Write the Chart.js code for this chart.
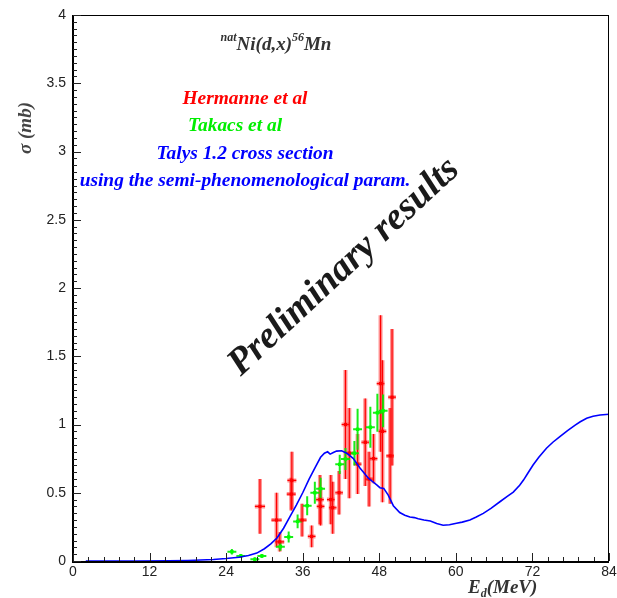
<!DOCTYPE html>
<html lang="en">
<head>
<meta charset="UTF-8">
<title>natNi(d,x)56Mn cross section</title>
<script src="https://cdn.jsdelivr.net/npm/chart.js"></script>
<style>
  body { margin: 0; background: #fff; }
  #wrap { width: 617px; height: 598px; }
</style>
</head>
<body>
<div id="wrap"><canvas id="xsChart" width="617" height="598"></canvas></div>
<script>
// Hermanne et al (red): energy, cross section, errors
const hermE    = [29.3, 31.9, 32.4, 34.3, 34.2, 35.9, 37.4, 38.7, 38.8, 40.4, 40.7, 41.7, 42.7, 43.3, 44.6, 45.8, 46.4, 47.1, 48.2, 48.5, 49.7, 50.0];
const hermSig  = [0.40, 0.30, 0.14, 0.59, 0.49, 0.30, 0.18, 0.45, 0.40, 0.45, 0.39, 0.50, 1.00, 0.79, 0.71, 0.87, 0.60, 0.75, 1.30, 0.95, 0.77, 1.20];
const hermErr  = [0.20, 0.20, 0.07, 0.21, 0.12, 0.12, 0.08, 0.18, 0.14, 0.18, 0.19, 0.16, 0.40, 0.33, 0.22, 0.32, 0.20, 0.18, 0.50, 0.52, 0.35, 0.50];
const hermEErr = [0.8, 0.8, 0.7, 0.7, 0.7, 0.7, 0.6, 0.6, 0.6, 0.6, 0.6, 0.6, 0.6, 0.6, 0.6, 0.6, 0.6, 0.6, 0.6, 0.6, 0.6, 0.6];

// Takacs et al (green)
const takE    = [24.9, 26.3, 28.5, 29.6, 32.5, 33.8, 35.2, 36.7, 37.9, 38.8, 41.8, 42.7, 44.1, 44.6, 46.6, 47.7, 48.6];
const takSig  = [0.068, 0.037, 0.012, 0.037, 0.105, 0.176, 0.29, 0.405, 0.50, 0.53, 0.708, 0.747, 0.79, 0.965, 0.98, 1.086, 1.10];
const takErr  = [0.02, 0.015, 0.015, 0.015, 0.03, 0.04, 0.05, 0.07, 0.08, 0.08, 0.07, 0.08, 0.09, 0.15, 0.15, 0.14, 0.12];
const takEErr = [0.7, 0.7, 0.7, 0.7, 0.7, 0.7, 0.7, 0.7, 0.7, 0.7, 0.7, 0.7, 0.7, 0.7, 0.7, 0.7, 0.7];

// Talys 1.2 curve
const talysE   = [2, 10, 15, 18, 20, 22, 24, 26, 27.5, 28.8, 30, 31, 32, 33, 34, 35, 36, 37, 38, 38.8, 39.4, 39.9, 40.3, 40.8, 41.3, 42.1, 42.9, 43.9, 45, 46.3, 47.6, 48.1, 48.7, 49.4, 50.2, 51.2, 52, 52.8, 53.5, 54.1, 55, 56, 57, 58, 59, 60.1, 61, 62.2, 63.2, 64.3, 65.5, 66.9, 68, 69, 70, 70.6, 71.3, 72.1, 73, 74.2, 75.2, 76.3, 77.5, 78.7, 79.5, 80.5, 81.5, 82.6, 84];
const talysSig = [0, 0, 0.001, 0.004, 0.007, 0.011, 0.018, 0.028, 0.04, 0.058, 0.09, 0.125, 0.17, 0.24, 0.325, 0.41, 0.5, 0.6, 0.69, 0.76, 0.79, 0.80, 0.783, 0.795, 0.805, 0.808, 0.79, 0.752, 0.68, 0.606, 0.557, 0.537, 0.532, 0.483, 0.405, 0.355, 0.335, 0.322, 0.318, 0.31, 0.30, 0.293, 0.275, 0.262, 0.265, 0.276, 0.285, 0.30, 0.322, 0.349, 0.385, 0.434, 0.472, 0.505, 0.555, 0.593, 0.645, 0.703, 0.76, 0.826, 0.87, 0.911, 0.955, 0.996, 1.02, 1.045, 1.06, 1.07, 1.075];

const xTicks = [0, 12, 24, 36, 48, 60, 72, 84];
const yTicks = [0, 0.5, 1, 1.5, 2, 2.5, 3, 3.5, 4];

const SERIF = '"Liberation Serif", "DejaVu Serif", serif';

function pts(xs, ys) { return xs.map((x, i) => ({ x: x, y: ys[i] })); }

// error bars drawn underneath the markers
const errorBars = {
  id: 'errorBars',
  beforeDatasetsDraw(chart) {
    const { ctx, scales: { x, y } } = chart;
    ctx.save();
    ctx.lineCap = 'butt';
    // red: wide translucent band plus thin core
    hermE.forEach((e, i) => {
      const px = x.getPixelForValue(e), py = y.getPixelForValue(hermSig[i]);
      const top = y.getPixelForValue(hermSig[i] + hermErr[i]);
      const bot = y.getPixelForValue(Math.max(0, hermSig[i] - hermErr[i]));
      const l = x.getPixelForValue(e - hermEErr[i]), r = x.getPixelForValue(e + hermEErr[i]);
      ctx.strokeStyle = 'rgba(255,40,40,0.5)';
      ctx.lineWidth = 4;
      ctx.beginPath();
      ctx.moveTo(px, top); ctx.lineTo(px, bot);
      ctx.moveTo(l, py); ctx.lineTo(r, py);
      ctx.stroke();
      ctx.strokeStyle = '#ff0000';
      ctx.lineWidth = 1.2;
      ctx.beginPath();
      ctx.moveTo(px, top); ctx.lineTo(px, bot);
      ctx.moveTo(l, py); ctx.lineTo(r, py);
      ctx.stroke();
    });
    // green crosses
    ctx.strokeStyle = 'rgba(0,235,0,0.9)';
    ctx.lineWidth = 2;
    takE.forEach((e, i) => {
      const px = x.getPixelForValue(e), py = y.getPixelForValue(takSig[i]);
      ctx.beginPath();
      ctx.moveTo(px, y.getPixelForValue(takSig[i] + takErr[i]));
      ctx.lineTo(px, y.getPixelForValue(Math.max(0, takSig[i] - takErr[i])));
      ctx.moveTo(x.getPixelForValue(e - takEErr[i]), py);
      ctx.lineTo(x.getPixelForValue(e + takEErr[i]), py);
      ctx.stroke();
    });
    ctx.restore();
  }
};

// frame, inward ticks and all annotation text
const frameAndText = {
  id: 'frameAndText',
  afterDraw(chart) {
    const { ctx, chartArea: a, scales: { x, y } } = chart;
    ctx.save();
    // frame
    ctx.strokeStyle = '#000';
    ctx.lineWidth = 1;
    ctx.beginPath();
    ctx.moveTo(a.left, a.top + 0.5); ctx.lineTo(a.right, a.top + 0.5);
    ctx.moveTo(a.right - 0.5, a.top); ctx.lineTo(a.right - 0.5, a.bottom);
    ctx.stroke();
    ctx.lineWidth = 2;
    ctx.beginPath();
    ctx.moveTo(a.left, a.top); ctx.lineTo(a.left, a.bottom + 1);
    ctx.lineTo(a.right, a.bottom + 1);
    ctx.stroke();

    // ticks
    ctx.strokeStyle = '#222';
    ctx.lineWidth = 1;
    ctx.beginPath();
    for (let k = 0; k <= 80; k++) {
      const py = Math.round(y.getPixelForValue(k * 0.05)) + 0.5;
      const len = (k % 10 === 0) ? 8 : 4;
      ctx.moveTo(a.left, py); ctx.lineTo(a.left + len, py);
    }
    for (let k = 0; k <= 35; k++) {
      const px = Math.round(x.getPixelForValue(k * 2.4)) + 0.5;
      const len = (k % 5 === 0) ? 8 : 4;
      ctx.moveTo(px, a.bottom); ctx.lineTo(px, a.bottom - len);
    }
    ctx.stroke();

    // title
    ctx.fillStyle = '#333';
    ctx.textBaseline = 'alphabetic';
    ctx.textAlign = 'left';
    const big = 'italic bold 19px ' + SERIF, small = 'italic bold 12px ' + SERIF;
    const parts = [['nat', small, -9], ['Ni(d,x)', big, 0], ['56', small, -9], ['Mn', big, 0]];
    let w = 0;
    parts.forEach(p => { ctx.font = p[1]; w += ctx.measureText(p[0]).width; });
    let tx = 276 - w / 2;
    parts.forEach(p => { ctx.font = p[1]; ctx.fillText(p[0], tx, 50 + p[2]); tx += ctx.measureText(p[0]).width; });

    // legend text
    ctx.textAlign = 'center';
    ctx.font = 'italic bold 19.4px ' + SERIF;
    ctx.fillStyle = '#ff0000';
    ctx.fillText('Hermanne et al', 245, 104);
    ctx.fillStyle = '#00ee00';
    ctx.fillText('Takacs et al', 235, 131);
    ctx.fillStyle = '#0000ff';
    ctx.fillText('Talys 1.2 cross section', 245, 159);
    ctx.fillText('using the semi-phenomenological param.', 245, 186);

    // watermark
    ctx.save();
    ctx.translate(344, 267);
    ctx.rotate(-43 * Math.PI / 180);
    ctx.fillStyle = '#1a1a1a';
    ctx.font = 'italic bold 38px ' + SERIF;
    ctx.textBaseline = 'middle';
    ctx.fillText('Preliminary results', 0, 0);
    ctx.restore();

    // axis titles
    ctx.save();
    ctx.translate(26, 128);
    ctx.rotate(-Math.PI / 2);
    ctx.fillStyle = '#444';
    ctx.font = 'italic bold 19px ' + SERIF;
    ctx.textBaseline = 'middle';
    ctx.fillText('\u03c3 (mb)', 0, 0);
    ctx.restore();

    ctx.fillStyle = '#333';
    ctx.textAlign = 'left';
    ctx.font = 'italic bold 19px ' + SERIF;
    ctx.fillText('E', 468, 593);
    let ex = 468 + ctx.measureText('E').width;
    ctx.font = 'italic bold 12px ' + SERIF;
    ctx.fillText('d', ex, 597);
    ex += ctx.measureText('d').width;
    ctx.font = 'italic bold 19px ' + SERIF;
    ctx.fillText('(MeV)', ex, 593);
    ctx.restore();
  }
};

Chart.defaults.font.family = '"Liberation Sans", Arial, sans-serif';

new Chart(document.getElementById('xsChart'), {
  type: 'scatter',
  data: {
    datasets: [
      {
        label: 'Talys 1.2',
        type: 'line',
        data: pts(talysE, talysSig),
        borderColor: '#0000ff',
        borderWidth: 1.6,
        pointRadius: 0,
        tension: 0,
        fill: false,
        order: 0
      },
      {
        label: 'Hermanne et al',
        data: pts(hermE, hermSig),
        pointStyle: 'rect',
        pointRadius: 2.4,
        backgroundColor: '#ff0000',
        borderWidth: 0,
        order: 2
      },
      {
        label: 'Takacs et al',
        data: pts(takE, takSig),
        pointStyle: 'rect',
        pointRadius: 2.4,
        backgroundColor: '#00ff00',
        borderWidth: 0,
        order: 1
      }
    ]
  },
  options: {
    responsive: false,
    animation: false,
    layout: { padding: { top: 15, right: 8, left: 0, bottom: 0 } },
    plugins: { legend: { display: false }, tooltip: { enabled: false } },
    scales: {
      x: {
        type: 'linear', min: 0, max: 84,
        afterBuildTicks: s => { s.ticks = xTicks.map(v => ({ value: v })); },
        afterFit: s => { s.height = 37; s.paddingLeft = 0; s.paddingRight = 0; },
        ticks: { callback: v => String(v), color: '#222', font: { size: 14 }, padding: 3, maxRotation: 0 },
        grid: { display: false, drawTicks: false },
        border: { display: false }
      },
      y: {
        type: 'linear', min: 0, max: 4,
        afterBuildTicks: s => { s.ticks = yTicks.map(v => ({ value: v })); },
        afterFit: s => { s.width = 73; s.paddingTop = 0; s.paddingBottom = 0; },
        ticks: { callback: v => String(v), color: '#222', font: { size: 14 }, padding: 7 },
        grid: { display: false, drawTicks: false },
        border: { display: false }
      }
    }
  },
  plugins: [errorBars, frameAndText]
});
</script>
</body>
</html>
